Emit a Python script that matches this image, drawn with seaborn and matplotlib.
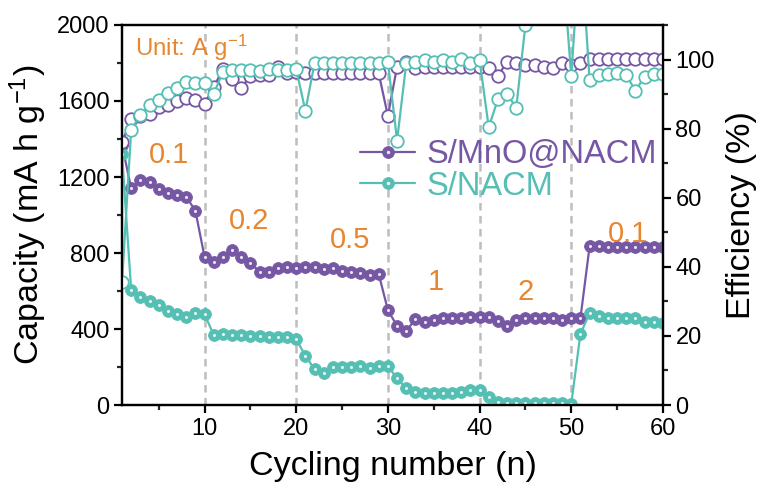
import numpy as np
import pandas as pd
import matplotlib
matplotlib.use("Agg")
import matplotlib.pyplot as plt
from matplotlib.lines import Line2D
from matplotlib.ticker import MultipleLocator
import seaborn as sns

# ---- data -------------------------------------------------------------
cycles = np.arange(1, 61)

cap_mno = [1370, 1140, 1184, 1172, 1135, 1117, 1105, 1096, 1023, 780,
           754, 777, 816, 777, 746, 702, 698, 719, 728, 719,
           728, 725, 716, 719, 707, 698, 693, 684, 689, 500,
           416, 391, 451, 439, 447, 456, 456, 456, 465, 465,
           465, 440, 416, 447, 456, 459, 459, 456, 447, 456,
           456, 835, 835, 833, 833, 832, 832, 832, 830, 830]

cap_nacm = [1320, 605, 570, 547, 526, 495, 479, 465, 482, 479,
            368, 374, 368, 368, 365, 365, 360, 360, 356, 346,
            260, 187, 170, 202, 202, 202, 205, 193, 205, 205,
            140, 88, 70, 65, 61, 61, 65, 70, 79, 79,
            44, 18, 12, 12, 10, 9, 9, 8, 8, 5,
            374, 483, 468, 460, 456, 456, 456, 439, 439, 433]

eff_mno = [76.0, 82.8, 83.8, 84.3, 86.2, 86.7, 88.1, 88.8, 88.3, 87.2,
           92.0, 97.2, 94.5, 91.8, 95.2, 95.5, 95.5, 97.8, 96.2, 96.5,
           96.0, 96.2, 96.0, 96.1, 96.0, 96.2, 96.0, 96.1, 96.0, 83.7,
           97.9, 99.2, 97.5, 97.8, 97.8, 97.9, 97.8, 97.8, 97.9, 97.8,
           97.5, 95.2, 99.4, 98.9, 98.4, 98.4, 97.9, 97.5, 98.9, 98.4,
           98.9, 100.1, 100.1, 100.1, 100.1, 100.1, 100.1, 100.1, 100.1, 100.1]

eff_nacm = [35.5, 79.6, 84.0, 86.8, 88.2, 90.2, 91.7, 93.6, 93.1, 93.1,
            90.0, 96.5, 97.0, 97.0, 97.0, 96.8, 97.2, 97.0, 97.0, 97.2,
            85.2, 98.9, 99.1, 99.1, 99.1, 99.1, 99.1, 99.1, 99.1, 99.4,
            76.5, 98.9, 99.4, 99.9, 99.4, 99.9, 99.4, 100.2, 99.0, 99.8,
            80.4, 88.5, 90.1, 86.0, 110.0, 130.0, 130.0, 130.0, 130.0, 95.2,
            135.0, 94.1, 95.5, 95.8, 96.0, 95.5, 91.0, 95.0, 95.8, 95.8]

series_names = ["S/MnO@NACM", "S/NACM"]
rate_breaks = [10, 20, 30, 40, 50]
rate_labels = ["0.1", "0.2", "0.5", "1", "2", "0.1"]

df = pd.DataFrame({"cycle": cycles,
                   "cap_mno": cap_mno, "cap_nacm": cap_nacm,
                   "eff_mno": eff_mno, "eff_nacm": eff_nacm})

# ---- style ------------------------------------------------------------
sns.set_theme(style="ticks")
plt.rcParams["font.family"] = ["Liberation Sans", "DejaVu Sans"]
plt.rcParams["mathtext.fontset"] = "custom"
plt.rcParams["mathtext.rm"] = "Liberation Sans"
plt.rcParams["mathtext.it"] = "Liberation Sans:italic"
plt.rcParams["mathtext.bf"] = "Liberation Sans:bold"
plt.rcParams["text.color"] = "black"
plt.rcParams["axes.labelcolor"] = "black"

purple = "#7657a3"
teal = "#55bfb4"
orange = "#e8862f"
colors = [purple, teal]

fig = plt.figure(figsize=(7.64, 4.95), dpi=100)
ax = fig.add_axes([0.1597, 0.1818, 0.708, 0.7677])
ax2 = ax.twinx()

# rate-step separators
for xb in rate_breaks:
    ax.axvline(xb, color="#bdbdbd", lw=1.8, ls=(0, (3, 2.2)), zorder=0)

# capacity: solid "ball" markers
for col, c in zip(["cap_mno", "cap_nacm"], colors):
    sns.lineplot(data=df, x="cycle", y=col, ax=ax, color=c, lw=1.6,
                 marker="o", markersize=8.5, markeredgewidth=0.6,
                 markeredgecolor=c, legend=False, zorder=3)
    sns.scatterplot(data=df, x="cycle", y=col, ax=ax, color="white",
                    s=5, linewidth=0, alpha=0.85, legend=False, zorder=4)

# coulombic efficiency: hollow markers on the right axis
for col, c in zip(["eff_mno", "eff_nacm"], colors):
    sns.lineplot(data=df, x="cycle", y=col, ax=ax2, color=c, lw=1.6,
                 marker="o", markersize=9, markerfacecolor="white",
                 markeredgecolor=c, markeredgewidth=1.3, legend=False)

# ---- axes -------------------------------------------------------------
ax.set_xlim(1, 60)
ax.set_ylim(0, 2000)
ax2.set_ylim(0, 110)
ax.set_xticks([10, 20, 30, 40, 50, 60])
ax.xaxis.set_minor_locator(MultipleLocator(5))
ax.set_yticks(np.arange(0, 2001, 400))
ax.yaxis.set_minor_locator(MultipleLocator(200))
ax2.set_yticks(np.arange(0, 101, 20))
ax2.yaxis.set_minor_locator(MultipleLocator(10))

for a in (ax, ax2):
    for s in a.spines.values():
        s.set_linewidth(1.6)
        s.set_color("black")
    a.tick_params(which="major", direction="out", length=5.5, width=1.6,
                  labelsize=17, colors="black")
    a.tick_params(which="minor", direction="out", length=3.5, width=1.6)

ax.set_xlabel("Cycling number (n)", fontsize=24.5, labelpad=8)
ax.set_ylabel("Capacity (mA h g$^{-1}$)", fontsize=24.5, labelpad=6)
ax2.set_ylabel("Efficiency (%)", fontsize=24.5, labelpad=8)

# ---- annotations ------------------------------------------------------
ax.text(2.4, 1880, "Unit: A g$^{-1}$", color=orange, fontsize=17.3,
        ha="left", va="center")
label_pos = [(6.1, 1316), (14.9, 968), (25.9, 868), (35.2, 649),
             (45.0, 596), (56.2, 900)]
for txt, (lx, ly) in zip(rate_labels, label_pos):
    ax.text(lx, ly, txt, color=orange, fontsize=21, ha="center", va="center")

# ---- legend -----------------------------------------------------------
handles = []
for c in colors:
    body = Line2D([], [], color=c, lw=1.6, marker="o", markersize=8.5,
                  markeredgecolor=c, markeredgewidth=0.6)
    shine = Line2D([], [], ls="none", marker="o", markersize=2.5,
                   markerfacecolor="white", markeredgecolor="none", alpha=0.85)
    handles.append((body, shine))
ax2.legend(handles, series_names, loc="upper left", bbox_to_anchor=(0.44, 0.70),
           frameon=False, fontsize=23.5, handlelength=1.7, handletextpad=0.35,
           labelspacing=0.02, borderpad=0, borderaxespad=0,
           labelcolor=colors)

fig.savefig("out.png", dpi=100)
